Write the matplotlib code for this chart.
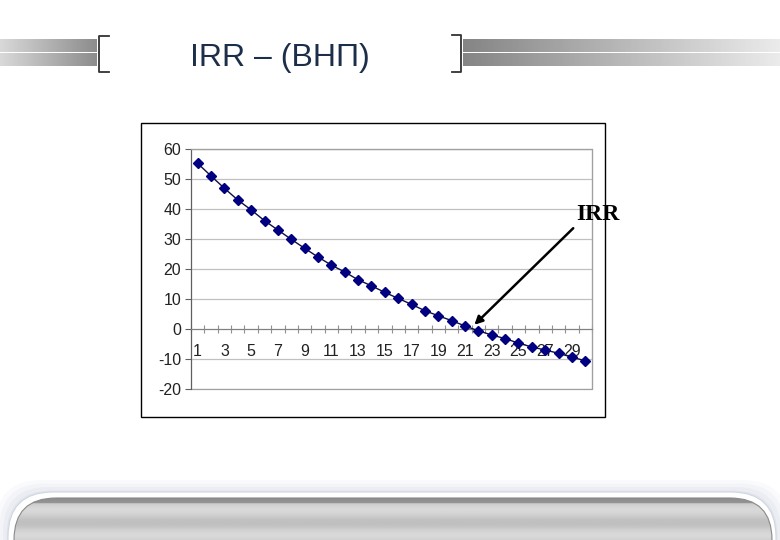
import numpy as np
import matplotlib
matplotlib.use("Agg")
import matplotlib.pyplot as plt
from matplotlib.patches import Rectangle, FancyBboxPatch

plt.rcParams['axes.unicode_minus'] = False

# Data: NPV for each rate (1..30 %)
periods = list(range(1, 31))
npv = [55.2, 51.0, 46.9, 43.0, 39.7, 36.1, 33.0, 29.9, 26.9, 24.0,
       21.3, 19.0, 16.4, 14.4, 12.2, 10.2, 8.2, 6.1, 4.4, 2.8,
       1.0, -0.6, -2.0, -3.2, -4.7, -6.0, -7.0, -8.1, -9.4, -10.6]
x_labels = [str(p) for p in periods[::2]]
y_ticks = [-20, -10, 0, 10, 20, 30, 40, 50, 60]

title = "IRR – (ВНП)"
note = "IRR"

W, H = 780, 540
fig = plt.figure(figsize=(W / 100, H / 100), dpi=100)

# slide background in pixel coords
bg = fig.add_axes([0, 0, 1, 1])
bg.set_xlim(0, W)
bg.set_ylim(H, 0)
bg.axis('off')

# header bars with gradients
grad_l = np.linspace(0.85, 0.55, 256).reshape(1, -1)
grad_r = np.linspace(0.52, 0.92, 256).reshape(1, -1)
for y0, y1 in [(39.5, 52), (53.5, 66)]:
    bg.imshow(grad_l, cmap='gray', vmin=0, vmax=1, extent=(0, 97, y1, y0), aspect='auto')
    bg.imshow(grad_r, cmap='gray', vmin=0, vmax=1, extent=(463, W, y1, y0), aspect='auto')

# brackets
bg.plot([109, 99, 99, 109], [36, 36, 72, 72], color='#333333', lw=1.3)
bg.plot([452, 461, 461, 452], [35, 35, 72, 72], color='#333333', lw=1.3)

bg.text(190, 58, title, fontsize=23, color='#1c2e4a', family='Liberation Sans',
        ha='left', va='center')

# bottom rounded band with soft shadow
for i, a in enumerate([0.05, 0.07, 0.09, 0.12]):
    off = 14 - i * 3.5
    bg.add_patch(FancyBboxPatch((10 - off, 494 - off), 764 + 2 * off, 120,
                                boxstyle="round,pad=0,rounding_size=45",
                                fc='#9fb0c8', ec='none', alpha=a))
bg.add_patch(FancyBboxPatch((8, 492), 768, 120,
                            boxstyle="round,pad=0,rounding_size=45",
                            fc='white', ec='#d0d6e0', lw=0.8))
band = FancyBboxPatch((14, 498), 758, 120,
                      boxstyle="round,pad=0,rounding_size=42",
                      fc='none', ec='#8a8a8a', lw=0.8, zorder=3)
bg.add_patch(band)
vgrad = np.linspace(0.55, 0.85, 64)
vgrad[8:] = 0.80 + 0.05 * np.sin(np.linspace(0, 9, 56))
img = bg.imshow(vgrad.reshape(-1, 1), cmap='gray', vmin=0, vmax=1,
                extent=(14, 772, 540, 498), aspect='auto', zorder=2)
img.set_clip_path(band)

# chart frame
bg.add_patch(Rectangle((141, 123), 464, 294, fc='white', ec='black', lw=1))

# plot area
ax = fig.add_axes([191 / W, 1 - 389 / H, 401 / W, 240 / H])
ax.set_facecolor('white')
ax.set_xlim(0.5, 30.5)
ax.set_ylim(-20, 60)
ax.set_yticks(y_ticks)
ax.grid(axis='y', color='#c0c0c0', lw=0.9)
ax.set_axisbelow(True)

for s in ['top', 'right']:
    ax.spines[s].set_color('#a0a0a0')
ax.spines['left'].set_color('#606060')
ax.spines['bottom'].set_position(('data', 0))
ax.spines['bottom'].set_color('#808080')
# bottom border of plot area
ax.add_patch(Rectangle((0, 0), 1, 1, transform=ax.transAxes, fc='none',
                       ec='#a0a0a0', lw=0.9, clip_on=False, zorder=0.5))

ax.set_xticks(periods[::2])
ax.set_xticklabels(x_labels)
ax.set_xticks(np.arange(0.5, 31, 1), minor=True)
ax.tick_params(axis='x', which='major', length=0, pad=11)
ax.tick_params(axis='x', which='minor', direction='inout', length=6,
               color='#909090', width=0.8)
ax.tick_params(axis='y', length=4, color='#606060', pad=3)
for lbl in ax.get_xticklabels() + ax.get_yticklabels():
    lbl.set_fontfamily('Liberation Sans')
    lbl.set_fontsize(11.5)
    lbl.set_color('#222222')

ax.plot(periods, npv, color='#101040', lw=1, marker='D', markersize=5,
        markerfacecolor='#000080', markeredgecolor='#000080', clip_on=False, zorder=3)

# annotation
ax.annotate(note, xy=(21.7, 1.4), xycoords='data',
            xytext=(576, H - 215), textcoords='figure pixels',
            fontsize=17, fontweight='bold', family='Liberation Serif',
            ha='left', va='center', annotation_clip=False,
            arrowprops=dict(arrowstyle='-|>', color='black', lw=1.8,
                            mutation_scale=12, shrinkA=0, shrinkB=0,
                            relpos=(0.0, 0.0)))

fig.savefig('out.png', dpi=100)
